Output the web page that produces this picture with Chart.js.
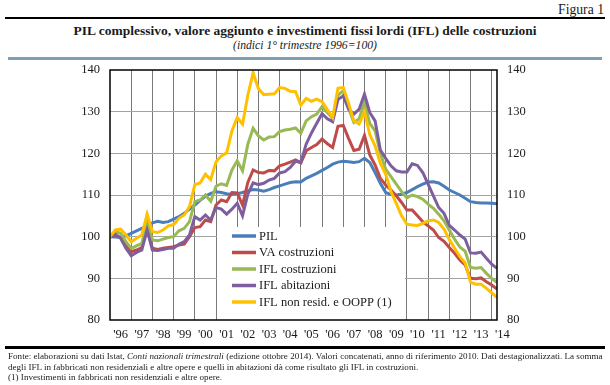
<!DOCTYPE html>
<html>
<head>
<meta charset="utf-8">
<script src="https://cdn.jsdelivr.net/npm/chart.js@4.4.1/dist/chart.umd.min.js"></script>
<style>
  body { margin: 0; background: #fff; }
  #wrap { position: relative; width: 610px; height: 385px; overflow: hidden; font-family: 'Liberation Serif', serif; color: #1a1a1a; }
  #chart { position: absolute; left: 0; top: 0; }
  .t { position: absolute; white-space: nowrap; line-height: 1; }
  .rule { position: absolute; }
  .foot { left: 8px; font-size: 9px; }
</style>
</head>
<body>
<div id="wrap">
  <div class="t" id="fig" style="right:6px; top:3px; font-size:13px;">Figura 1</div>
  <div class="rule" style="left:5px; top:17px; width:600px; height:2px; background:#000"></div>
  <div class="t" id="title" style="left:0; width:610px; text-align:center; top:24px; font-weight:bold; font-size:13px;">PIL complessivo, valore aggiunto e investimenti fissi lordi (IFL) delle costruzioni</div>
  <div class="t" id="sub" style="left:0; width:610px; text-align:center; top:40px; font-style:italic; font-size:11px;">(indici 1° trimestre 1996=100)</div>
  <div class="rule" style="left:8px; top:57px; width:594px; height:3px; background:#7c9fb3"></div>
  <canvas id="chart" width="610" height="385"></canvas>
  <div class="rule" style="left:5px; top:346px; width:600px; height:2.5px; background:#000"></div>
  <div class="t foot" id="f1" style="top:352px;">Fonte: elaborazioni su dati Istat, <i>Conti nazionali trimestrali</i> (edizione ottobre 2014). Valori concatenati, anno di riferimento 2010. Dati destagionalizzati. La somma</div>
  <div class="t foot" id="f2" style="top:362.5px;">degli IFL in fabbricati non residenziali e altre opere e quelli in abitazioni dà come risultato gli IFL in costruzioni.</div>
  <div class="t foot" id="f3" style="top:373px;">(1) Investimenti in fabbricati non residenziali e altre opere.</div>
</div>
<script>
// trimestri 1996 T1 - 2014 T2
const yearLabels = ["'96", "'97", "'98", "'99", "'00", "'01", "'02", "'03", "'04", "'05", "'06", "'07", "'08", "'09", "'10", "'11", "'12", "'13", "'14"];

const pil = [
  100, 99.9, 99.8, 100.2, 100.8, 101.4, 102, 102.6, 103.3, 103.7, 103.4, 103.6,
  104.2, 104.8, 105.6, 106.6, 107.6, 108.7, 109.7, 110.4, 110.8, 110.6, 110.3, 110.2,
  110.3, 110.6, 111, 111.3, 111.2, 110.9, 111.3, 111.8, 112.2, 112.6, 113, 113.2,
  113.1, 114, 114.6, 115.2, 115.9, 116.6, 117.4, 117.9, 118.1, 118, 117.8, 118,
  118.8, 117.8, 115.4, 112.8, 110.6, 110.1, 110, 110.2, 110.6, 111.3, 112, 112.6,
  113.1, 113.2, 112.9, 112.1, 111.2, 110.6, 110, 109.2, 108.4, 108.2, 108.1, 108.1,
  108, 107.9
];
const vaCostruzioni = [
  100, 100.4, 99.8, 98, 96.4, 96.8, 97.4, 102, 97.2, 96.9, 97.2, 97.4,
  97.6, 98, 98.2, 100, 102.2, 102.4, 104, 103.6, 107.6, 108.8, 108.4, 110.6,
  110.5, 107.6, 113, 116, 115.4, 115.3, 115.9, 115.8, 117, 117.4, 117.9, 118.4,
  117.7, 120.6, 121.4, 122.1, 123.4, 122.3, 121.4, 126.5, 126.7, 123.6, 120.7, 121,
  124.3, 119.6, 117.2, 114, 112.4, 111.2, 109.8, 108.2, 106.4, 106.4, 105, 103.6,
  102.6, 101.6, 99.8, 98.9, 97.4, 96, 94.4, 93.2, 90, 89.9, 90.1, 89.2,
  88.4, 87.4
];
const iflCostruzioni = [
  100, 101.2, 100.8, 98.8, 97.2, 97.8, 98.4, 103.6, 99.2, 99, 99.4, 99.8,
  100, 101.4, 102, 103.6, 108.4, 108.8, 110, 108.5, 112.1, 112.7, 112.3, 116,
  118.2, 115.8, 122.2, 126, 124.2, 123.2, 123.9, 124, 125.2, 125.6, 125.8, 126.1,
  124.8, 127.8, 128.8, 129.4, 131.2, 129.8, 128.4, 134, 135, 130.8, 127.4, 128.3,
  132.2, 127.2, 125.4, 120, 116.2, 114.4, 112.6, 110.8, 109.3, 110, 109.6, 109,
  107.8, 106.8, 105.4, 103.8, 101.6, 99.4, 97.5, 96.5, 92.6, 92.4, 92.6, 91.2,
  90, 89
];
const iflAbitazioni = [
  100, 100.6, 99.6, 97.2, 95.4, 96.2, 96.8, 101.6, 96.8, 96.7, 96.9, 97.2,
  97.2, 98.2, 98.8, 100.4, 104.8, 104, 105.2, 104, 107, 106.6, 105.4, 106.6,
  108, 105, 110.2, 112.9, 112.5, 112.8, 113.6, 114, 115.3, 115.6, 116.6, 118.1,
  117.8, 122.2, 124.9, 127.2, 129.5, 128.3, 127.6, 132.9, 133.8, 130.6, 129.4, 130.6,
  134.2, 129.8, 127.8, 120.8, 118.8, 117, 115.8, 115.5, 115.5, 117.5, 117.1, 115.4,
  112.6, 109.8, 107, 105.6, 102.7, 101.6, 100.4, 99.4, 96.1, 96, 96.3, 94.8,
  93.4, 92.4
];
const iflNonResid = [
  100, 101.6, 101.8, 100.4, 98.8, 99.6, 100.4, 105.4, 101.2, 101, 101.6, 102.6,
  102.9, 104.4, 105.2, 107.2, 112.5, 112.9, 115, 113.7, 118, 119.4, 120.1, 125.4,
  128.6, 127, 134, 139.3, 135.5, 134.1, 134.2, 134.3, 135.8, 135.6, 134.9, 134.8,
  131.6, 133.2, 132.5, 133, 132.4, 130.5, 128.6, 135.6, 135.8, 132, 127.8, 127,
  130, 124.5, 121.8, 117.6, 115, 110.8, 108, 105, 103, 102.8, 102.7, 103.2,
  103.8, 104, 103.4, 101.8, 99.3, 97.2, 95.2, 93.7, 89.1, 88.6, 88.6, 87.6,
  86.5, 85.4
];

const serieNames = ['PIL', 'VA costruzioni', 'IFL costruzioni', 'IFL abitazioni', 'IFL non resid. e OOPP (1)'];
const serieColors = ['#4a7ebb', '#be4b48', '#98b954', '#7d5fa0', '#ffc000'];
const serieValues = [pil, vaCostruzioni, iflCostruzioni, iflAbitazioni, iflNonResid];

// adatta la dimensione del font alla larghezza voluta
function fitWidth(el, w) {
  const cs = getComputedStyle(el);
  const ctx = document.createElement('canvas').getContext('2d');
  ctx.font = cs.fontStyle + ' ' + cs.fontWeight + ' 100px ' + cs.fontFamily;
  el.style.fontSize = (100 * w / ctx.measureText(el.textContent).width) + 'px';
}
fitWidth(document.getElementById('title'), 464);
fitWidth(document.getElementById('sub'), 144);
fitWidth(document.getElementById('fig'), 46);
fitWidth(document.getElementById('f1'), 594);
const footSize = document.getElementById('f1').style.fontSize;
document.getElementById('f2').style.fontSize = footSize;
document.getElementById('f3').style.fontSize = footSize;

const serif = "'Liberation Serif', serif";

const legendBox = {
  id: 'legendBox',
  beforeDatasetsDraw(chart) {
    const { ctx, chartArea } = chart;
    ctx.save();
    ctx.fillStyle = '#fff';
    ctx.fillRect(chartArea.left + 107, 227, 188, chartArea.bottom - 227);
    ctx.restore();
  },
  afterDatasetsDraw(chart) {
    const { ctx, chartArea } = chart;
    ctx.save();
    const x0 = chartArea.left + 122;
    chart.data.datasets.forEach((ds, i) => {
      const y = 236 + i * 16.5;
      ctx.strokeStyle = ds.borderColor;
      ctx.lineWidth = 3.5;
      ctx.beginPath();
      ctx.moveTo(x0, y);
      ctx.lineTo(x0 + 24, y);
      ctx.stroke();
      ctx.fillStyle = '#1a1a1a';
      ctx.font = '12.5px ' + serif;
      ctx.textBaseline = 'middle';
      ctx.fillText(ds.label, x0 + 27, y + 0.5);
    });
    // cornice
    ctx.strokeStyle = '#000';
    ctx.lineWidth = 1.5;
    ctx.strokeRect(chartArea.left, chartArea.top, chartArea.right - chartArea.left, chartArea.bottom - chartArea.top);
    ctx.restore();
  }
};

new Chart(document.getElementById('chart'), {
  type: 'line',
  data: {
    datasets: serieValues.map((vals, s) => ({
      label: serieNames[s],
      data: vals.map((v, i) => ({ x: i, y: v })),
      borderColor: serieColors[s],
      backgroundColor: serieColors[s],
      borderWidth: 3,
      pointRadius: 0,
      tension: 0,
      fill: false,
      order: serieValues.length - s
    }))
  },
  options: {
    responsive: false,
    animation: false,
    events: [],
    layout: { padding: { top: 70, left: 0, right: 0, bottom: 0 } },
    plugins: { legend: { display: false }, tooltip: { enabled: false } },
    scales: {
      x: {
        type: 'linear',
        min: 0,
        max: 73,
        afterBuildTicks: scale => {
          const ticks = [];
          yearLabels.forEach((lab, k) => {
            ticks.push({ value: k * 4 });
            ticks.push({ value: k * 4 + 2 });
          });
          scale.ticks = ticks;
        },
        afterFit: scale => { scale.height = 65; },
        border: { display: false },
        grid: {
          drawTicks: false,
          lineWidth: 1,
          color: c => (c.tick && c.tick.value % 4 === 0 && c.tick.value > 0 && c.tick.value <= 72) ? '#7a7a7a' : 'rgba(0,0,0,0)'
        },
        ticks: {
          autoSkip: false,
          maxRotation: 0,
          padding: 7,
          color: '#1a1a1a',
          font: { family: serif, size: 12.5 },
          callback: v => (v % 4 === 2 ? yearLabels[(v - 2) / 4] : '')
        }
      },
      y: {
        position: 'left',
        min: 80,
        max: 140,
        afterFit: scale => { scale.width = 110; },
        border: { display: false },
        grid: {
          drawTicks: false,
          lineWidth: 1,
          color: c => (c.tick && c.tick.value > 80 && c.tick.value < 140) ? '#a3a3a3' : 'rgba(0,0,0,0)'
        },
        ticks: { stepSize: 10, padding: 10, color: '#1a1a1a', font: { family: serif, size: 12.5 } }
      },
      y2: {
        position: 'right',
        min: 80,
        max: 140,
        afterFit: scale => { scale.width = 113; },
        border: { display: false },
        grid: { display: false, drawTicks: false },
        ticks: { stepSize: 10, padding: 10, color: '#1a1a1a', font: { family: serif, size: 12.5 } }
      }
    }
  },
  plugins: [legendBox]
});
</script>
</body>
</html>
